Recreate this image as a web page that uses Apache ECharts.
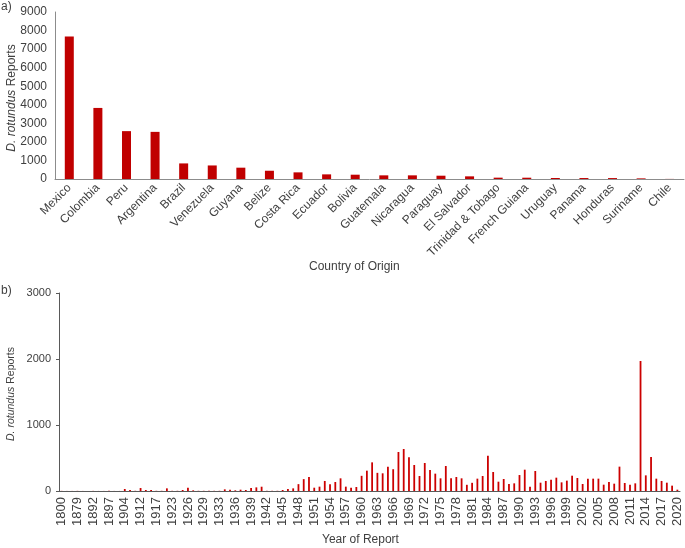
<!DOCTYPE html>
<html>
<head>
<meta charset="utf-8">
<script src="https://cdn.jsdelivr.net/npm/echarts@6/dist/echarts.min.js"></script>
<style>
html,body{margin:0;padding:0;background:#fff;}
#chart{width:685px;height:548px;}
</style>
</head>
<body>
<div id="chart"></div>
<script>
var countries = ['Mexico','Colombia','Peru','Argentina','Brazil','Venezuela','Guyana','Belize','Costa Rica','Ecuador','Bolivia','Guatemala','Nicaragua','Paraguay','El Salvador','Trinidad & Tobago','French Guiana','Uruguay','Panama','Honduras','Suriname','Chile'];
var countryReports = [7680, 3830, 2580, 2540, 840, 730, 610, 445, 358, 250, 232, 197, 197, 178, 143, 72, 70, 54, 52, 50, 34, 5];

var years = ['1800','1850','1870','1879','1884','1888','1892','1894','1895','1897','1900','1902',
  '1904','1906','1910','1912','1913','1915','1917','1919','1921','1923','1924','1925',
  '1926','1927','1928','1929','1930','1931','1933','1934','1935','1936','1937','1938',
  '1939','1940','1941','1942','1943','1944',
  '1945','1946','1947','1948','1949','1950','1951','1952','1953','1954','1955','1956',
  '1957','1958','1959','1960','1961','1962','1963','1964','1965','1966','1967','1968',
  '1969','1970','1971','1972','1973','1974','1975','1976','1977','1978','1979','1980',
  '1981','1982','1983','1984','1985','1986','1987','1988','1989','1990','1991','1992',
  '1993','1994','1995','1996','1997','1998','1999','2000','2001','2002','2003','2004',
  '2005','2006','2007','2008','2009','2010','2011','2012','2013','2014','2015','2016',
  '2017','2018','2019','2020'];
var yearReports = [2,1,1,2,1,1,2,1,1,2,1,1,
  30,15,3,45,15,15,3,3,40,3,3,15,
  50,10,3,3,3,3,3,25,20,10,20,15,
  45,55,65,3,3,3,
  15,30,40,104,180,212,50,66,152,101,136,192,
  66,50,61,230,308,434,275,268,369,330,591,636,
  512,394,227,424,318,263,192,379,192,212,192,94,
  124,187,227,535,288,141,182,106,116,242,323,66,
  303,126,152,172,202,131,157,232,197,106,187,187,
  187,96,136,111,369,121,96,116,1970,237,515,187,
  152,126,81,20];

var TXT = '#404040';
var FONT = 'Liberation Sans, Arial, sans-serif';
var plain = function (v) { return String(v); };
function yTitle(x, y, size) {
  return {
    type: 'text', x: x, y: y, rotation: Math.PI / 2,
    style: {
      text: '{i|D. rotundus} Reports',
      fontSize: size, fontFamily: FONT, fill: TXT,
      align: 'center', verticalAlign: 'middle',
      rich: {i: {fontStyle: 'italic', fontSize: size, fontFamily: FONT, fill: TXT}}
    }
  };
}
var chart = echarts.init(document.getElementById('chart'), null, {renderer: 'canvas'});
chart.setOption({
  backgroundColor: '#ffffff',
  animation: false,
  textStyle: {fontFamily: FONT, color: TXT},
  grid: [
    {left: 55, top: 12, width: 629, height: 167, containLabel: false, outerBoundsMode: 'none'},
    {left: 59, top: 293, width: 621, height: 198, containLabel: false, outerBoundsMode: 'none'}
  ],
  xAxis: [
    {
      type: 'category', gridIndex: 0, data: countries,
      axisLine: {lineStyle: {color: '#8c8c8c', width: 1}},
      axisTick: {show: false},
      axisLabel: {rotate: 45, interval: 0, margin: 7, fontSize: 12, color: TXT, fontFamily: FONT},
      splitLine: {show: false}
    },
    {
      type: 'category', gridIndex: 1, data: years,
      axisLine: {lineStyle: {color: '#595959', width: 1}},
      axisTick: {show: false},
      axisLabel: {rotate: 90, interval: 2, margin: 6, fontSize: 13, color: TXT, fontFamily: FONT},
      splitLine: {show: false}
    }
  ],
  yAxis: [
    {
      type: 'value', gridIndex: 0, min: 0, max: 9000, interval: 1000,
      axisLine: {show: true, lineStyle: {color: '#8c8c8c', width: 1}},
      axisTick: {show: false},
      splitLine: {show: false},
      axisLabel: {fontSize: 12, color: TXT, margin: 8, fontFamily: FONT, formatter: plain}
    },
    {
      type: 'value', gridIndex: 1, min: 0, max: 3000, interval: 1000,
      axisLine: {show: true, lineStyle: {color: '#595959', width: 1}},
      axisTick: {show: true, length: 3, lineStyle: {color: '#595959'}},
      splitLine: {show: false},
      axisLabel: {fontSize: 11, color: TXT, margin: 8, fontFamily: FONT, formatter: plain}
    }
  ],
  series: [
    {type: 'bar', xAxisIndex: 0, yAxisIndex: 0, data: countryReports, barWidth: 9,
      itemStyle: {color: '#C00000'}},
    {type: 'bar', xAxisIndex: 1, yAxisIndex: 1, data: yearReports, barWidth: 1.8,
      itemStyle: {color: '#cc0000'}}
  ],
  graphic: [
    {type: 'text', left: 1, top: 1, style: {text: 'a)', font: '12px Liberation Sans, Arial', fill: TXT}},
    {type: 'text', left: 1, top: 285, style: {text: 'b)', font: '12px Liberation Sans, Arial', fill: TXT}},
    {type: 'text', left: 309, top: 261, style: {text: 'Country of Origin', font: '12px Liberation Sans, Arial', fill: TXT}},
    {type: 'text', left: 322, top: 534, style: {text: 'Year of Report', font: '12px Liberation Sans, Arial', fill: TXT}},
    yTitle(12, 98, 12),
    yTitle(11, 394, 10.5)
  ]
});
</script>
</body>
</html>
